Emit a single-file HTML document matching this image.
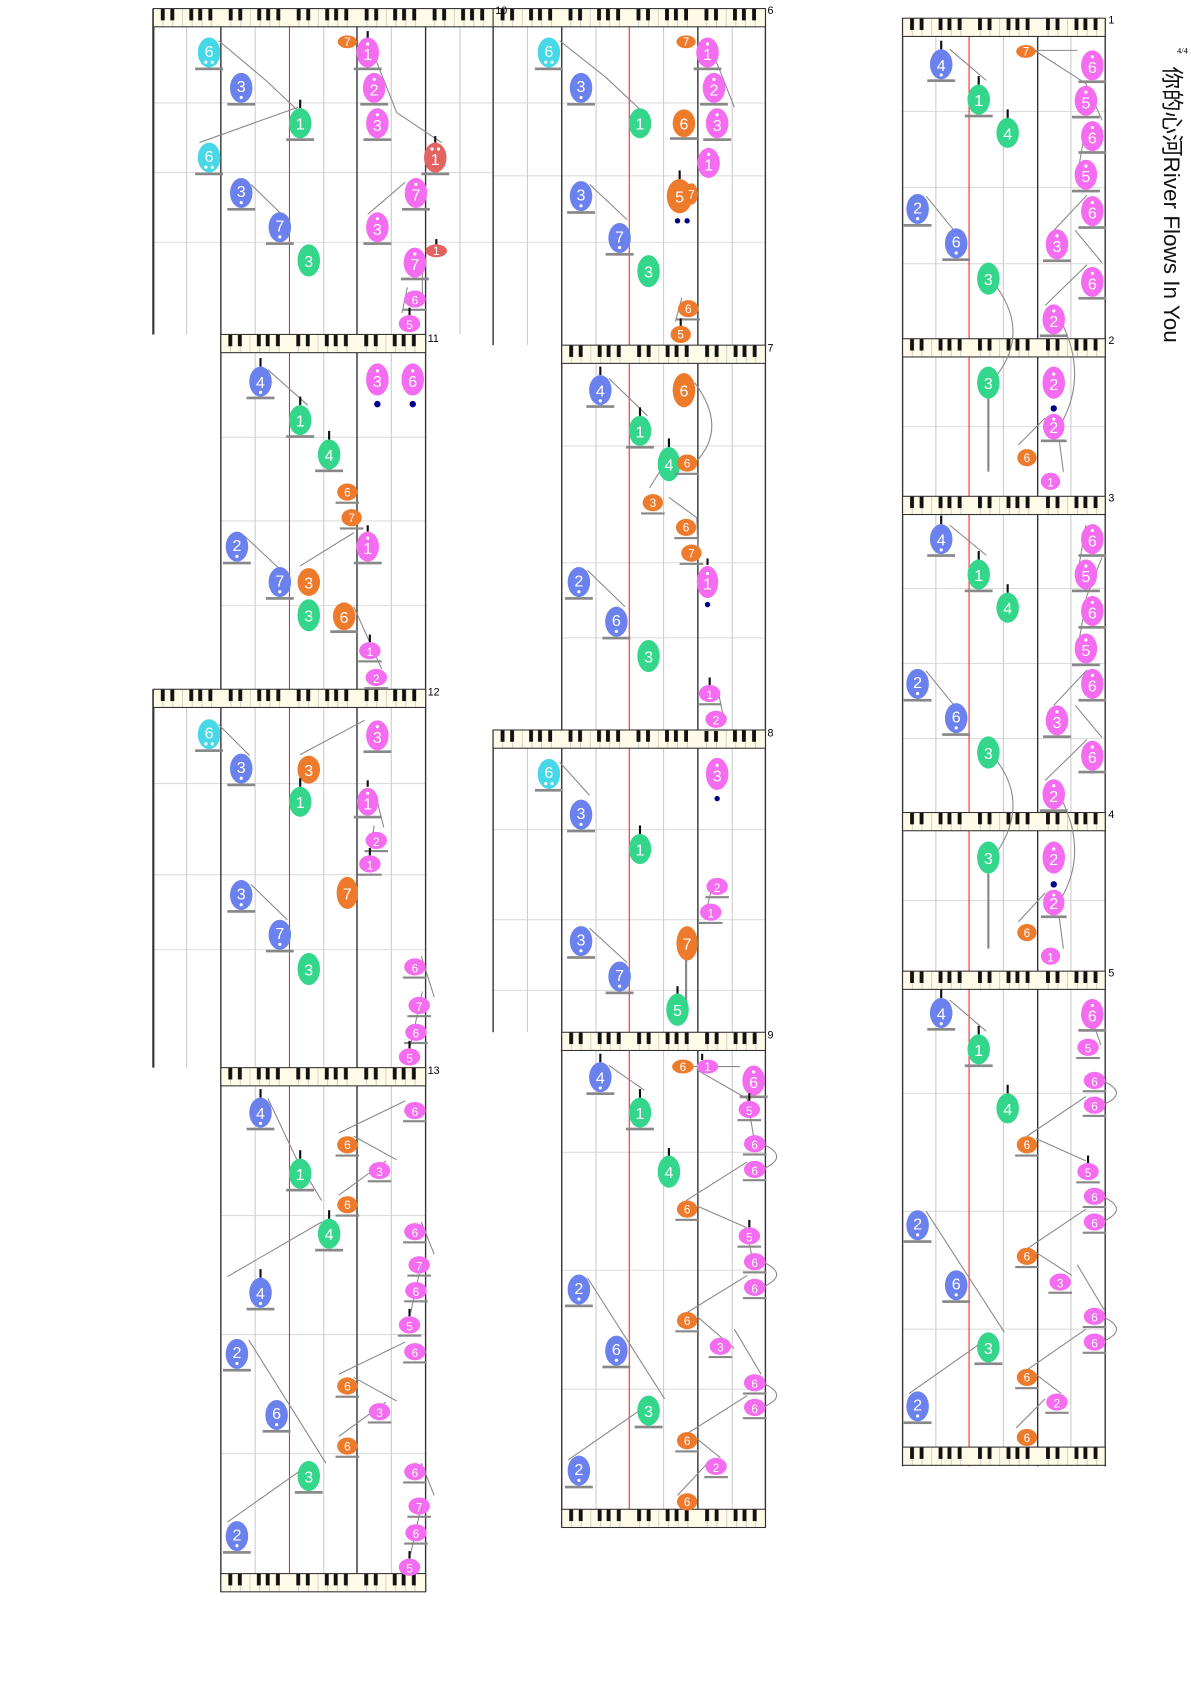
<!DOCTYPE html>
<html><head><meta charset="utf-8"><style>
html,body{margin:0;padding:0;background:#fff}
svg{display:block}
.n text{fill:#fff;font-family:"Liberation Sans",sans-serif;font-size:15px;text-anchor:middle}
.s text{font-size:11px}
.b ellipse{fill:#6b82ee}.g ellipse{fill:#33d68a}.p ellipse{fill:#f46cf0}.o ellipse{fill:#ee7a2c}.c ellipse{fill:#47d8e8}.r ellipse{fill:#e36363}
.n circle{fill:#fff}
.u{fill:#888}
.st{stroke:#111;stroke-width:2}
.cn{stroke:#888;stroke-width:1;fill:none}
.dk{stroke:#333;stroke-width:1.3}
.lt{stroke:#ccc;stroke-width:1}
.rd{stroke:#f22;stroke-width:1}
.gr{stroke:#ddd;stroke-width:1}
.mn{font-family:"Liberation Sans",sans-serif;font-size:10px;fill:#000}
</style></head><body>
<svg width="1191" height="1684" viewBox="0 0 1111 1571" xmlns="http://www.w3.org/2000/svg">
<defs>
<pattern id="kb" patternUnits="userSpaceOnUse" width="63.4" height="17">
<rect width="63.4" height="17" fill="#fffbe8"/>
<g stroke="#bbb" stroke-width="0.6"><line x1="9" y1="0" x2="9" y2="17"/><line x1="18.1" y1="0" x2="18.1" y2="17"/><line x1="27.2" y1="0" x2="27.2" y2="17"/><line x1="36.2" y1="0" x2="36.2" y2="17"/><line x1="45.3" y1="0" x2="45.3" y2="17"/><line x1="54.3" y1="0" x2="54.3" y2="17"/></g>
<g fill="#111"><rect x="7" y="0" width="3.6" height="11"/><rect x="15.9" y="0" width="3.6" height="11"/><rect x="33.6" y="0" width="3.6" height="11"/><rect x="41.9" y="0" width="3.6" height="11"/><rect x="51.4" y="0" width="3.6" height="11"/></g>
</pattern>
</defs>

<!-- grid lines -->
<g class="gr">
<line x1="842" y1="104" x2="1031" y2="104"/><line x1="842" y1="175" x2="1031" y2="175"/><line x1="842" y1="246" x2="1031" y2="246"/>
<line x1="842" y1="398" x2="1031" y2="398"/>
<line x1="842" y1="549" x2="1031" y2="549"/><line x1="842" y1="619" x2="1031" y2="619"/><line x1="842" y1="689" x2="1031" y2="689"/>
<line x1="842" y1="840" x2="1031" y2="840"/>
<line x1="842" y1="1020" x2="1031" y2="1020"/><line x1="842" y1="1130" x2="1031" y2="1130"/><line x1="842" y1="1240" x2="1031" y2="1240"/>
<line x1="143" y1="96" x2="460" y2="96"/><line x1="143" y1="161" x2="460" y2="161"/><line x1="143" y1="226" x2="460" y2="226"/>
<line x1="206" y1="408" x2="397" y2="408"/><line x1="206" y1="486" x2="397" y2="486"/><line x1="206" y1="565" x2="397" y2="565"/>
<line x1="143" y1="731" x2="397" y2="731"/><line x1="143" y1="816" x2="397" y2="816"/><line x1="143" y1="886" x2="397" y2="886"/>
<line x1="206" y1="1134" x2="397" y2="1134"/><line x1="206" y1="1245" x2="397" y2="1245"/><line x1="206" y1="1356" x2="397" y2="1356"/>
<line x1="460" y1="96" x2="714" y2="96"/><line x1="460" y1="164" x2="714" y2="164"/><line x1="460" y1="226" x2="714" y2="226"/>
<line x1="524" y1="416" x2="714" y2="416"/><line x1="524" y1="525" x2="714" y2="525"/><line x1="524" y1="595" x2="714" y2="595"/>
<line x1="460" y1="774" x2="714" y2="774"/><line x1="460" y1="858" x2="714" y2="858"/><line x1="460" y1="924" x2="714" y2="924"/>
<line x1="524" y1="1075" x2="714" y2="1075"/><line x1="524" y1="1185" x2="714" y2="1185"/><line x1="524" y1="1296" x2="714" y2="1296"/>
</g>

<!-- vertical lines -->
<g class="lt">
<line x1="873" y1="17" x2="873" y2="1368"/><line x1="936" y1="17" x2="936" y2="1368"/><line x1="999" y1="17" x2="999" y2="1368"/>
<line x1="238" y1="8" x2="238" y2="1485"/><line x1="302" y1="8" x2="302" y2="1485"/><line x1="365" y1="8" x2="365" y2="1485"/>
<line x1="174" y1="8" x2="174" y2="312"/><line x1="174" y1="643" x2="174" y2="996"/><line x1="429" y1="8" x2="429" y2="312"/>
<line x1="556" y1="8" x2="556" y2="1425"/><line x1="619" y1="8" x2="619" y2="1425"/><line x1="683" y1="8" x2="683" y2="1425"/>
<line x1="492" y1="8" x2="492" y2="322"/><line x1="492" y1="681" x2="492" y2="963"/>
</g>
<g class="rd"><line x1="904" y1="17" x2="904" y2="1368"/><line x1="270" y1="8" x2="270" y2="1485"/><line x1="587" y1="8" x2="587" y2="1425"/></g>
<g class="dk">
<line x1="842" y1="17" x2="842" y2="1368"/><line x1="968" y1="17" x2="968" y2="1368"/><line x1="1031" y1="17" x2="1031" y2="1368"/>
<line x1="206" y1="8" x2="206" y2="1485"/><line x1="333" y1="8" x2="333" y2="1485"/><line x1="397" y1="8" x2="397" y2="1485"/>
<line x1="143" y1="8" x2="143" y2="312" stroke-width="2"/><line x1="143" y1="643" x2="143" y2="996" stroke-width="2"/>
<line x1="460" y1="8" x2="460" y2="322"/><line x1="460" y1="681" x2="460" y2="963"/>
<line x1="524" y1="8" x2="524" y2="1425"/><line x1="651" y1="8" x2="651" y2="1425"/><line x1="714" y1="8" x2="714" y2="1425"/>
</g>

<!-- keyboards -->
<g>
<g transform="translate(842,17)"><rect width="189" height="17" fill="url(#kb)" stroke="#333"/></g>
<g transform="translate(842,316)"><rect width="189" height="17" fill="url(#kb)" stroke="#333"/></g>
<g transform="translate(842,463)"><rect width="189" height="17" fill="url(#kb)" stroke="#333"/></g>
<g transform="translate(842,758)"><rect width="189" height="17" fill="url(#kb)" stroke="#333"/></g>
<g transform="translate(842,906)"><rect width="189" height="17" fill="url(#kb)" stroke="#333"/></g>
<g transform="translate(842,1350)"><rect width="189" height="17" fill="url(#kb)" stroke="#333"/></g>
<g transform="translate(143,8)"><rect width="317" height="17" fill="url(#kb)" stroke="#333"/></g>
<g transform="translate(206,312)"><rect width="191" height="17" fill="url(#kb)" stroke="#333"/></g>
<g transform="translate(143,643)"><rect width="254" height="17" fill="url(#kb)" stroke="#333"/></g>
<g transform="translate(206,996)"><rect width="191" height="17" fill="url(#kb)" stroke="#333"/></g>
<g transform="translate(206,1468)"><rect width="191" height="17" fill="url(#kb)" stroke="#333"/></g>
<g transform="translate(460,8)"><rect width="254" height="17" fill="url(#kb)" stroke="#333"/></g>
<g transform="translate(524,322)"><rect width="190" height="17" fill="url(#kb)" stroke="#333"/></g>
<g transform="translate(460,681)"><rect width="254" height="17" fill="url(#kb)" stroke="#333"/></g>
<g transform="translate(524,963)"><rect width="190" height="17" fill="url(#kb)" stroke="#333"/></g>
<g transform="translate(524,1408)"><rect width="190" height="17" fill="url(#kb)" stroke="#333"/></g>
</g>

<!-- measure numbers -->
<g class="mn">
<text x="1034" y="22">1</text><text x="1034" y="321">2</text><text x="1034" y="468">3</text><text x="1034" y="763">4</text><text x="1034" y="911">5</text>
<text x="716" y="13">6</text><text x="716" y="328">7</text><text x="716" y="687">8</text><text x="716" y="969">9</text>
<text x="462" y="13">10</text><text x="399" y="319">11</text><text x="399" y="649">12</text><text x="399" y="1002">13</text>
</g>

<!-- title -->
<text x="1098" y="50" font-family="Liberation Serif,serif" font-size="8">4/4</text>
<text transform="translate(1086,62) rotate(90)" font-family="'Liberation Sans','Noto Sans CJK SC',sans-serif" font-size="21" fill="#111">你的心河River Flows In You</text>

<!-- connectors -->
<g class="cn">
<!-- col C -->
<polyline points="886,46 920,75"/><polyline points="957,47 1005,47"/><polyline points="965,47 1013,78 1028,112"/><polyline points="1013,118 1007,152"/>
<polyline points="1014,182 983,215"/><polyline points="1003,215 1028,245"/><polyline points="1014,247 975,285"/><polyline points="864,183 890,215"/>
<path d="M930,268 Q960,310 930,350"/><path d="M990,300 Q1015,350 990,395"/>
<line x1="922" y1="370" x2="922" y2="440" stroke-width="2"/><polyline points="950,415 975,390"/><polyline points="988,410 992,440"/>
<polyline points="886,490 920,518"/><polyline points="1013,490 1007,525"/><polyline points="1028,520 1013,558"/><polyline points="1013,562 1007,595"/>
<polyline points="1014,625 983,658"/><polyline points="1003,658 1028,688"/><polyline points="1014,690 975,728"/><polyline points="864,626 890,658"/>
<path d="M930,710 Q960,750 930,795"/><path d="M990,745 Q1015,795 990,838"/>
<line x1="922" y1="815" x2="922" y2="885" stroke-width="2"/><polyline points="950,860 975,833"/><polyline points="988,855 992,885"/>
<polyline points="886,933 920,962"/><polyline points="1013,935 1027,975"/><path d="M1028,1008 Q1055,1020 1028,1031"/>
<polyline points="958,1060 1013,1023"/><polyline points="966,1062 1013,1083"/><path d="M1028,1116 Q1055,1128 1028,1140"/>
<polyline points="958,1165 1013,1128"/><polyline points="966,1168 1000,1190"/><polyline points="1005,1180 1030,1222"/><path d="M1028,1228 Q1055,1240 1028,1252"/>
<polyline points="958,1278 1013,1240"/><polyline points="966,1282 990,1300"/><polyline points="948,1332 975,1305"/>
<polyline points="864,1130 937,1243"/><polyline points="922,1248 848,1300"/>
<!-- col A -->
<polyline points="204,38 248,75 283,108"/><polyline points="186,133 278,100"/><polyline points="234,172 268,205"/>
<polyline points="342,34 355,67 370,105 412,133"/><polyline points="378,170 343,200"/><polyline points="380,268 375,292"/><line x1="394" y1="235" x2="394" y2="280"/>
<polyline points="250,345 287,378"/><polyline points="228,500 260,530"/><polyline points="280,528 330,497"/><polyline points="330,566 356,624"/>
<polyline points="204,676 233,705"/><polyline points="280,704 340,672"/><polyline points="234,825 268,858"/><polyline points="350,740 358,772"/><polyline points="345,796 349,770"/>
<polyline points="393,892 405,930"/><polyline points="394,925 383,975"/>
<polyline points="250,1025 276,1080 300,1120"/><polyline points="212,1191 300,1140"/><polyline points="316,1057 378,1027"/><polyline points="330,1060 370,1082"/><polyline points="316,1115 360,1083"/>
<polyline points="393,1140 405,1170"/><polyline points="394,1175 383,1225"/>
<polyline points="232,1250 304,1365"/><polyline points="212,1420 290,1365"/><polyline points="316,1282 378,1252"/><polyline points="330,1285 370,1307"/><polyline points="316,1340 360,1308"/>
<polyline points="393,1365 405,1395"/><polyline points="394,1400 383,1450"/>
<!-- col B -->
<polyline points="522,38 565,72 598,103"/><polyline points="660,38 672,67 685,100"/><polyline points="550,172 585,205"/><polyline points="630,300 636,278"/>
<polyline points="568,353 604,388"/><path d="M648,357 Q680,400 648,432"/><polyline points="606,455 628,420"/><polyline points="624,464 650,483 651,512"/>
<polyline points="548,532 583,566"/><polyline points="670,645 675,670"/>
<polyline points="522,711 550,742"/><polyline points="666,820 660,845"/><polyline points="550,866 585,898"/><line x1="640" y1="890" x2="640" y2="935" stroke-width="2"/>
<polyline points="568,994 601,1017"/><polyline points="640,995 690,995"/><polyline points="650,998 697,1025 703,1060"/>
<path d="M711,1067 Q738,1079 711,1091"/><polyline points="640,1120 697,1084"/><polyline points="650,1125 696,1145 704,1185"/>
<path d="M711,1177 Q738,1189 711,1201"/><polyline points="640,1225 697,1190"/><polyline points="650,1228 685,1258"/><polyline points="685,1240 710,1282"/>
<path d="M711,1290 Q738,1302 711,1313"/><polyline points="640,1338 697,1302"/><polyline points="650,1342 672,1360"/><polyline points="632,1395 660,1365"/>
<polyline points="548,1192 620,1305"/><polyline points="605,1310 530,1362"/>
</g>

<!-- notes: big -->
<g>
<!-- col C sys1 -->
<g class="n b" transform="translate(878,60)"><line class="st" x1="0" y1="-22" x2="0" y2="-14"/><ellipse rx="10.5" ry="14"/><text y="6">4</text><circle cy="10" r="1.5"/><rect class="u" x="-13" y="14" width="26" height="2.5"/></g>
<g class="n g" transform="translate(913,93)"><line class="st" x1="0" y1="-22" x2="0" y2="-14"/><ellipse rx="10.5" ry="14"/><text y="6">1</text><rect class="u" x="-13" y="14" width="26" height="2.5"/></g>
<g class="n g" transform="translate(940,124)"><line class="st" x1="0" y1="-22" x2="0" y2="-14"/><ellipse rx="10.5" ry="14"/><text y="6">4</text></g>
<g class="n o s" transform="translate(957,48)"><ellipse rx="9" ry="6"/><text y="4">7</text></g>
<g class="n p" transform="translate(1019,61)"><ellipse rx="10.5" ry="14"/><text y="7">6</text><circle cy="-8" r="1.5"/><rect class="u" x="-13" y="14" width="26" height="2.5"/></g>
<g class="n p" transform="translate(1013,94)"><ellipse rx="10.5" ry="14"/><text y="7">5</text><circle cy="-8" r="1.5"/><rect class="u" x="-13" y="14" width="26" height="2.5"/></g>
<g class="n p" transform="translate(1019,127)"><ellipse rx="10.5" ry="14"/><text y="7">6</text><circle cy="-8" r="1.5"/><rect class="u" x="-13" y="14" width="26" height="2.5"/></g>
<g class="n p" transform="translate(1013,163)"><ellipse rx="10.5" ry="14"/><text y="7">5</text><circle cy="-8" r="1.5"/><rect class="u" x="-13" y="14" width="26" height="2.5"/></g>
<g class="n p" transform="translate(1019,197)"><ellipse rx="10.5" ry="14"/><text y="7">6</text><circle cy="-8" r="1.5"/><rect class="u" x="-13" y="14" width="26" height="2.5"/></g>
<g class="n p" transform="translate(986,228)"><ellipse rx="10.5" ry="14"/><text y="7">3</text><circle cy="-8" r="1.5"/><rect class="u" x="-13" y="14" width="26" height="2.5"/></g>
<g class="n p" transform="translate(1019,263)"><ellipse rx="10.5" ry="14"/><text y="7">6</text><circle cy="-8" r="1.5"/><rect class="u" x="-13" y="14" width="26" height="2.5"/></g>
<g class="n p" transform="translate(983,298)"><ellipse rx="10.5" ry="14"/><text y="7">2</text><circle cy="-8" r="1.5"/><rect class="u" x="-13" y="14" width="26" height="2.5"/></g>
<g class="n b" transform="translate(856,195)"><ellipse rx="10.5" ry="14"/><text y="4">2</text><circle cy="9" r="1.5"/><rect class="u" x="-13" y="14" width="26" height="2.5"/></g>
<g class="n b" transform="translate(892,227)"><ellipse rx="10.5" ry="14"/><text y="4">6</text><circle cy="9" r="1.5"/><rect class="u" x="-13" y="14" width="26" height="2.5"/></g>
<g class="n g" transform="translate(922,260)"><ellipse rx="10.5" ry="15"/><text y="6">3</text></g>
<!-- sys2 -->
<g class="n g" transform="translate(922,357)"><ellipse rx="10.5" ry="15"/><text y="6">3</text></g>
<g class="n p" transform="translate(983,357)"><ellipse rx="10.5" ry="15"/><text y="7">2</text><circle cy="-8" r="1.5"/></g>
<circle cx="983" cy="381" r="3" fill="#008"/>
<g class="n p" transform="translate(983,398)"><ellipse rx="10" ry="12"/><text y="6">2</text><circle cy="-7" r="1.5"/><rect class="u" x="-12" y="12" width="24" height="2.5"/></g>
<g class="n o s" transform="translate(958,427)"><ellipse rx="9" ry="8"/><text y="4">6</text></g>
<g class="n p s" transform="translate(980,449)"><ellipse rx="9" ry="8"/><text y="5">1</text></g>
<!-- sys3 -->
<g class="n b" transform="translate(878,503)"><line class="st" x1="0" y1="-22" x2="0" y2="-14"/><ellipse rx="10.5" ry="14"/><text y="6">4</text><circle cy="10" r="1.5"/><rect class="u" x="-13" y="14" width="26" height="2.5"/></g>
<g class="n g" transform="translate(913,536)"><line class="st" x1="0" y1="-22" x2="0" y2="-14"/><ellipse rx="10.5" ry="14"/><text y="6">1</text><rect class="u" x="-13" y="14" width="26" height="2.5"/></g>
<g class="n g" transform="translate(940,567)"><line class="st" x1="0" y1="-22" x2="0" y2="-14"/><ellipse rx="10.5" ry="14"/><text y="6">4</text></g>
<g class="n p" transform="translate(1019,503)"><ellipse rx="10.5" ry="14"/><text y="7">6</text><circle cy="-8" r="1.5"/><rect class="u" x="-13" y="14" width="26" height="2.5"/></g>
<g class="n p" transform="translate(1013,536)"><ellipse rx="10.5" ry="14"/><text y="7">5</text><circle cy="-8" r="1.5"/><rect class="u" x="-13" y="14" width="26" height="2.5"/></g>
<g class="n p" transform="translate(1019,570)"><ellipse rx="10.5" ry="14"/><text y="7">6</text><circle cy="-8" r="1.5"/><rect class="u" x="-13" y="14" width="26" height="2.5"/></g>
<g class="n p" transform="translate(1013,605)"><ellipse rx="10.5" ry="14"/><text y="7">5</text><circle cy="-8" r="1.5"/><rect class="u" x="-13" y="14" width="26" height="2.5"/></g>
<g class="n p" transform="translate(1019,638)"><ellipse rx="10.5" ry="14"/><text y="7">6</text><circle cy="-8" r="1.5"/><rect class="u" x="-13" y="14" width="26" height="2.5"/></g>
<g class="n p" transform="translate(986,672)"><ellipse rx="10.5" ry="14"/><text y="7">3</text><circle cy="-8" r="1.5"/><rect class="u" x="-13" y="14" width="26" height="2.5"/></g>
<g class="n p" transform="translate(1019,705)"><ellipse rx="10.5" ry="14"/><text y="7">6</text><circle cy="-8" r="1.5"/><rect class="u" x="-13" y="14" width="26" height="2.5"/></g>
<g class="n p" transform="translate(983,741)"><ellipse rx="10.5" ry="14"/><text y="7">2</text><circle cy="-8" r="1.5"/><rect class="u" x="-13" y="14" width="26" height="2.5"/></g>
<g class="n b" transform="translate(856,638)"><ellipse rx="10.5" ry="14"/><text y="4">2</text><circle cy="9" r="1.5"/><rect class="u" x="-13" y="14" width="26" height="2.5"/></g>
<g class="n b" transform="translate(892,670)"><ellipse rx="10.5" ry="14"/><text y="4">6</text><circle cy="9" r="1.5"/><rect class="u" x="-13" y="14" width="26" height="2.5"/></g>
<g class="n g" transform="translate(922,702)"><ellipse rx="10.5" ry="15"/><text y="6">3</text></g>
<!-- sys4 -->
<g class="n g" transform="translate(922,800)"><ellipse rx="10.5" ry="15"/><text y="6">3</text></g>
<g class="n p" transform="translate(983,800)"><ellipse rx="10.5" ry="15"/><text y="7">2</text><circle cy="-8" r="1.5"/></g>
<circle cx="983" cy="825" r="3" fill="#008"/>
<g class="n p" transform="translate(983,842)"><ellipse rx="10" ry="12"/><text y="6">2</text><circle cy="-7" r="1.5"/><rect class="u" x="-12" y="12" width="24" height="2.5"/></g>
<g class="n o s" transform="translate(958,870)"><ellipse rx="9" ry="8"/><text y="4">6</text></g>
<g class="n p s" transform="translate(980,892)"><ellipse rx="9" ry="8"/><text y="5">1</text></g>
<!-- sys5 -->
<g class="n b" transform="translate(878,945)"><line class="st" x1="0" y1="-22" x2="0" y2="-14"/><ellipse rx="10.5" ry="14"/><text y="6">4</text><circle cy="10" r="1.5"/><rect class="u" x="-13" y="14" width="26" height="2.5"/></g>
<g class="n g" transform="translate(913,979)"><line class="st" x1="0" y1="-22" x2="0" y2="-14"/><ellipse rx="10.5" ry="14"/><text y="6">1</text><rect class="u" x="-13" y="14" width="26" height="2.5"/></g>
<g class="n g" transform="translate(940,1034)"><line class="st" x1="0" y1="-22" x2="0" y2="-14"/><ellipse rx="10.5" ry="14"/><text y="6">4</text></g>
<g class="n p" transform="translate(1019,946)"><ellipse rx="10.5" ry="14"/><text y="7">6</text><circle cy="-8" r="1.5"/><rect class="u" x="-13" y="14" width="26" height="2.5"/></g>
<g class="n b" transform="translate(856,1143)"><ellipse rx="10.5" ry="14"/><text y="4">2</text><circle cy="9" r="1.5"/><rect class="u" x="-13" y="14" width="26" height="2.5"/></g>
<g class="n b" transform="translate(892,1199)"><ellipse rx="10.5" ry="14"/><text y="4">6</text><circle cy="9" r="1.5"/><rect class="u" x="-13" y="14" width="26" height="2.5"/></g>
<g class="n g" transform="translate(922,1257)"><ellipse rx="10.5" ry="14"/><text y="6">3</text><rect class="u" x="-13" y="14" width="26" height="2.5"/></g>
<g class="n b" transform="translate(856,1312)"><ellipse rx="10.5" ry="14"/><text y="4">2</text><circle cy="9" r="1.5"/><rect class="u" x="-13" y="14" width="26" height="2.5"/></g>

<!-- col A sys10 -->
<g class="n c" transform="translate(195,49)"><ellipse rx="10.5" ry="14"/><text y="4">6</text><circle cx="-3" cy="9" r="1.5"/><circle cx="3" cy="9" r="1.5"/><rect class="u" x="-13" y="14" width="26" height="2.5"/></g>
<g class="n b" transform="translate(225,82)"><ellipse rx="10.5" ry="14"/><text y="4">3</text><circle cy="9" r="1.5"/><rect class="u" x="-13" y="14" width="26" height="2.5"/></g>
<g class="n g" transform="translate(280,115)"><line class="st" x1="0" y1="-22" x2="0" y2="-14"/><ellipse rx="10.5" ry="14"/><text y="6">1</text><rect class="u" x="-13" y="14" width="26" height="2.5"/></g>
<g class="n c" transform="translate(195,147)"><ellipse rx="10.5" ry="14"/><text y="4">6</text><circle cx="-3" cy="9" r="1.5"/><circle cx="3" cy="9" r="1.5"/><rect class="u" x="-13" y="14" width="26" height="2.5"/></g>
<g class="n b" transform="translate(225,180)"><ellipse rx="10.5" ry="14"/><text y="4">3</text><circle cy="9" r="1.5"/><rect class="u" x="-13" y="14" width="26" height="2.5"/></g>
<g class="n b" transform="translate(261,212)"><ellipse rx="10.5" ry="14"/><text y="4">7</text><circle cy="9" r="1.5"/><rect class="u" x="-13" y="14" width="26" height="2.5"/></g>
<g class="n g" transform="translate(288,243)"><ellipse rx="10.5" ry="15"/><text y="6">3</text></g>
<g class="n o s" transform="translate(324,39)"><ellipse rx="9" ry="6"/><text y="4">7</text></g>
<g class="n p" transform="translate(343,49)"><line class="st" x1="0" y1="-20" x2="0" y2="-14"/><ellipse rx="10.5" ry="14"/><text y="7">1</text><circle cy="-8" r="1.5"/><rect class="u" x="-13" y="14" width="26" height="2.5"/></g>
<g class="n p" transform="translate(349,82)"><ellipse rx="10.5" ry="14"/><text y="7">2</text><circle cy="-8" r="1.5"/><rect class="u" x="-13" y="14" width="26" height="2.5"/></g>
<g class="n p" transform="translate(352,115)"><ellipse rx="10.5" ry="14"/><text y="7">3</text><circle cy="-8" r="1.5"/><rect class="u" x="-13" y="14" width="26" height="2.5"/></g>
<g class="n r" transform="translate(406,147)"><line class="st" x1="0" y1="-20" x2="0" y2="-14"/><ellipse rx="10.5" ry="14"/><text y="7">1</text><circle cx="-3" cy="-8" r="1.5"/><circle cx="3" cy="-8" r="1.5"/><rect class="u" x="-13" y="14" width="26" height="2.5"/></g>
<g class="n p" transform="translate(388,180)"><ellipse rx="10.5" ry="14"/><text y="7">7</text><circle cy="-8" r="1.5"/><rect class="u" x="-13" y="14" width="26" height="2.5"/></g>
<g class="n p" transform="translate(352,212)"><ellipse rx="10.5" ry="14"/><text y="7">3</text><circle cy="-8" r="1.5"/><rect class="u" x="-13" y="14" width="26" height="2.5"/></g>
<g class="n p" transform="translate(387,245)"><ellipse rx="10.5" ry="14"/><text y="7">7</text><circle cy="-8" r="1.5"/><rect class="u" x="-13" y="14" width="26" height="2.5"/></g>
<g class="n r s" transform="translate(407,234)"><line class="st" x1="0" y1="-11" x2="0" y2="-6"/><ellipse rx="10" ry="6"/><text y="4">1</text></g>
<g class="n p s" transform="translate(387,279)"><ellipse rx="10" ry="8"/><text y="5">6</text><rect class="u" x="-11" y="9" width="22" height="2"/></g>
<g class="n p s" transform="translate(382,302)"><line class="st" x1="0" y1="-15" x2="0" y2="-8"/><ellipse rx="10" ry="8"/><text y="5">5</text></g>
<!-- sys11 -->
<g class="n b" transform="translate(243,356)"><line class="st" x1="0" y1="-22" x2="0" y2="-14"/><ellipse rx="10.5" ry="14"/><text y="6">4</text><circle cy="10" r="1.5"/><rect class="u" x="-13" y="14" width="26" height="2.5"/></g>
<g class="n g" transform="translate(280,392)"><line class="st" x1="0" y1="-22" x2="0" y2="-14"/><ellipse rx="10.5" ry="14"/><text y="6">1</text><rect class="u" x="-13" y="14" width="26" height="2.5"/></g>
<g class="n g" transform="translate(307,424)"><line class="st" x1="0" y1="-22" x2="0" y2="-14"/><ellipse rx="10.5" ry="14"/><text y="6">4</text><rect class="u" x="-13" y="14" width="26" height="2.5"/></g>
<g class="n p" transform="translate(352,354)"><ellipse rx="10.5" ry="15"/><text y="7">3</text><circle cy="-8" r="1.5"/></g>
<g class="n p" transform="translate(385,354)"><ellipse rx="10.5" ry="15"/><text y="7">6</text><circle cy="-8" r="1.5"/></g>
<circle cx="352" cy="377" r="3" fill="#008"/><circle cx="385" cy="377" r="3" fill="#008"/>
<g class="n o s" transform="translate(324,459)"><ellipse rx="9.5" ry="8"/><text y="4">6</text><rect class="u" x="-11" y="9" width="22" height="2"/></g>
<g class="n o s" transform="translate(328,483)"><ellipse rx="9.5" ry="8"/><text y="4">7</text><rect class="u" x="-11" y="9" width="22" height="2"/></g>
<g class="n p" transform="translate(343,510)"><line class="st" x1="0" y1="-20" x2="0" y2="-14"/><ellipse rx="10.5" ry="14"/><text y="7">1</text><circle cy="-8" r="1.5"/><rect class="u" x="-13" y="14" width="26" height="2.5"/></g>
<g class="n b" transform="translate(221,510)"><ellipse rx="10.5" ry="14"/><text y="4">2</text><circle cy="9" r="1.5"/><rect class="u" x="-13" y="14" width="26" height="2.5"/></g>
<g class="n b" transform="translate(261,543)"><ellipse rx="10.5" ry="14"/><text y="4">7</text><circle cy="9" r="1.5"/><rect class="u" x="-13" y="14" width="26" height="2.5"/></g>
<g class="n o" transform="translate(288,543)"><ellipse rx="10.5" ry="13"/><text y="6">3</text></g>
<g class="n g" transform="translate(288,574)"><ellipse rx="10.5" ry="15"/><text y="6">3</text></g>
<g class="n o" transform="translate(321,575)"><ellipse rx="10.5" ry="13"/><text y="6">6</text><rect class="u" x="-13" y="13" width="26" height="2.5"/></g>
<g class="n p s" transform="translate(345,607)"><line class="st" x1="0" y1="-15" x2="0" y2="-8"/><ellipse rx="10" ry="8"/><text y="5">1</text><rect class="u" x="-11" y="9" width="22" height="2"/></g>
<g class="n p s" transform="translate(351,632)"><ellipse rx="10" ry="8"/><text y="5">2</text><rect class="u" x="-11" y="9" width="22" height="2"/></g>
<!-- sys12 -->
<g class="n c" transform="translate(195,685)"><ellipse rx="10.5" ry="14"/><text y="4">6</text><circle cx="-3" cy="9" r="1.5"/><circle cx="3" cy="9" r="1.5"/><rect class="u" x="-13" y="14" width="26" height="2.5"/></g>
<g class="n b" transform="translate(225,717)"><ellipse rx="10.5" ry="14"/><text y="4">3</text><circle cy="9" r="1.5"/><rect class="u" x="-13" y="14" width="26" height="2.5"/></g>
<g class="n o" transform="translate(288,718)"><ellipse rx="10.5" ry="13"/><text y="6">3</text></g>
<g class="n p" transform="translate(352,686)"><ellipse rx="10.5" ry="14"/><text y="7">3</text><circle cy="-8" r="1.5"/><rect class="u" x="-13" y="14" width="26" height="2.5"/></g>
<g class="n g" transform="translate(280,748)"><line class="st" x1="0" y1="-22" x2="0" y2="-14"/><ellipse rx="10.5" ry="14"/><text y="6">1</text></g>
<g class="n p" transform="translate(343,748)"><line class="st" x1="0" y1="-20" x2="0" y2="-14"/><ellipse rx="10" ry="13"/><text y="7">1</text><circle cy="-8" r="1.5"/><rect class="u" x="-13" y="13" width="26" height="2.5"/></g>
<g class="n p s" transform="translate(351,784)"><ellipse rx="10" ry="8"/><text y="5">2</text><rect class="u" x="-11" y="9" width="22" height="2"/></g>
<g class="n p s" transform="translate(345,806)"><line class="st" x1="0" y1="-15" x2="0" y2="-8"/><ellipse rx="10" ry="8"/><text y="5">1</text><rect class="u" x="-11" y="9" width="22" height="2"/></g>
<g class="n o" transform="translate(324,833)"><ellipse rx="10" ry="15"/><text y="6">7</text></g>
<g class="n b" transform="translate(225,835)"><ellipse rx="10.5" ry="14"/><text y="4">3</text><circle cy="9" r="1.5"/><rect class="u" x="-13" y="14" width="26" height="2.5"/></g>
<g class="n b" transform="translate(261,872)"><ellipse rx="10.5" ry="14"/><text y="4">7</text><circle cy="9" r="1.5"/><rect class="u" x="-13" y="14" width="26" height="2.5"/></g>
<g class="n g" transform="translate(288,904)"><ellipse rx="10.5" ry="15"/><text y="6">3</text></g>
<g class="n p s" transform="translate(387,902)"><ellipse rx="10" ry="8"/><text y="5">6</text><rect class="u" x="-11" y="9" width="22" height="2"/></g>
<g class="n p s" transform="translate(391,938)"><ellipse rx="10" ry="8"/><text y="5">7</text><rect class="u" x="-11" y="9" width="22" height="2"/></g>
<g class="n p s" transform="translate(388,963)"><ellipse rx="10" ry="8"/><text y="5">6</text><rect class="u" x="-11" y="9" width="22" height="2"/></g>
<g class="n p s" transform="translate(382,986)"><line class="st" x1="0" y1="-15" x2="0" y2="-8"/><ellipse rx="10" ry="8"/><text y="5">5</text></g>
<!-- sys13 -->
<g class="n b" transform="translate(243,1038)"><line class="st" x1="0" y1="-22" x2="0" y2="-14"/><ellipse rx="10.5" ry="14"/><text y="6">4</text><circle cy="10" r="1.5"/><rect class="u" x="-13" y="14" width="26" height="2.5"/></g>
<g class="n g" transform="translate(280,1095)"><line class="st" x1="0" y1="-22" x2="0" y2="-14"/><ellipse rx="10.5" ry="14"/><text y="6">1</text><rect class="u" x="-13" y="14" width="26" height="2.5"/></g>
<g class="n g" transform="translate(307,1151)"><line class="st" x1="0" y1="-22" x2="0" y2="-14"/><ellipse rx="10.5" ry="14"/><text y="6">4</text><rect class="u" x="-13" y="14" width="26" height="2.5"/></g>
<g class="n b" transform="translate(243,1206)"><line class="st" x1="0" y1="-22" x2="0" y2="-14"/><ellipse rx="10.5" ry="14"/><text y="6">4</text><circle cy="10" r="1.5"/><rect class="u" x="-13" y="14" width="26" height="2.5"/></g>
<g class="n b" transform="translate(221,1263)"><ellipse rx="10.5" ry="14"/><text y="4">2</text><circle cy="9" r="1.5"/><rect class="u" x="-13" y="14" width="26" height="2.5"/></g>
<g class="n b" transform="translate(258,1320)"><ellipse rx="10.5" ry="14"/><text y="4">6</text><circle cy="9" r="1.5"/><rect class="u" x="-13" y="14" width="26" height="2.5"/></g>
<g class="n g" transform="translate(288,1377)"><ellipse rx="10.5" ry="14"/><text y="6">3</text><rect class="u" x="-13" y="14" width="26" height="2.5"/></g>
<g class="n b" transform="translate(221,1433)"><ellipse rx="10.5" ry="14"/><text y="4">2</text><circle cy="9" r="1.5"/><rect class="u" x="-13" y="14" width="26" height="2.5"/></g>

<!-- col B sys6 -->
<g class="n c" transform="translate(512,49)"><ellipse rx="10.5" ry="14"/><text y="4">6</text><circle cx="-3" cy="9" r="1.5"/><circle cx="3" cy="9" r="1.5"/><rect class="u" x="-13" y="14" width="26" height="2.5"/></g>
<g class="n b" transform="translate(542,82)"><ellipse rx="10.5" ry="14"/><text y="4">3</text><circle cy="9" r="1.5"/><rect class="u" x="-13" y="14" width="26" height="2.5"/></g>
<g class="n g" transform="translate(597,115)"><ellipse rx="10.5" ry="14"/><text y="6">1</text></g>
<g class="n o s" transform="translate(640,39)"><ellipse rx="9" ry="6"/><text y="4">7</text></g>
<g class="n p" transform="translate(660,49)"><ellipse rx="10.5" ry="14"/><text y="7">1</text><circle cy="-8" r="1.5"/><rect class="u" x="-13" y="14" width="26" height="2.5"/></g>
<g class="n p" transform="translate(666,82)"><ellipse rx="10.5" ry="14"/><text y="7">2</text><circle cy="-8" r="1.5"/><rect class="u" x="-13" y="14" width="26" height="2.5"/></g>
<g class="n o" transform="translate(638,115)"><ellipse rx="10.5" ry="13"/><text y="6">6</text><rect class="u" x="-13" y="13" width="26" height="2.5"/></g>
<g class="n p" transform="translate(669,115)"><ellipse rx="10.5" ry="14"/><text y="7">3</text><circle cy="-8" r="1.5"/><rect class="u" x="-13" y="14" width="26" height="2.5"/></g>
<g class="n p" transform="translate(661,152)"><ellipse rx="10.5" ry="14"/><text y="7">1</text><circle cy="-8" r="1.5"/></g>
<g class="n o" transform="translate(634,183)"><line class="st" x1="0" y1="-24" x2="0" y2="-16"/><ellipse rx="12" ry="16"/><text y="6">5</text></g>
<g class="n o s" transform="translate(645,181)"><ellipse rx="6" ry="10"/><text y="4">7</text></g>
<circle cx="632" cy="206" r="2.5" fill="#008"/><circle cx="641" cy="206" r="2.5" fill="#008"/>
<g class="n b" transform="translate(542,183)"><ellipse rx="10.5" ry="14"/><text y="4">3</text><circle cy="9" r="1.5"/><rect class="u" x="-13" y="14" width="26" height="2.5"/></g>
<g class="n b" transform="translate(578,222)"><ellipse rx="10.5" ry="14"/><text y="4">7</text><circle cy="9" r="1.5"/><rect class="u" x="-13" y="14" width="26" height="2.5"/></g>
<g class="n g" transform="translate(605,253)"><ellipse rx="10.5" ry="15"/><text y="6">3</text></g>
<g class="n o s" transform="translate(642,288)"><ellipse rx="9.5" ry="8"/><text y="4">6</text><rect class="u" x="-11" y="9" width="22" height="2"/></g>
<g class="n o s" transform="translate(635,312)"><line class="st" x1="0" y1="-15" x2="0" y2="-8"/><ellipse rx="9.5" ry="8"/><text y="4">5</text></g>
<!-- sys7 -->
<g class="n b" transform="translate(560,364)"><line class="st" x1="0" y1="-22" x2="0" y2="-14"/><ellipse rx="10.5" ry="14"/><text y="6">4</text><circle cy="10" r="1.5"/><rect class="u" x="-13" y="14" width="26" height="2.5"/></g>
<g class="n g" transform="translate(597,402)"><line class="st" x1="0" y1="-22" x2="0" y2="-14"/><ellipse rx="10.5" ry="14"/><text y="6">1</text><rect class="u" x="-13" y="14" width="26" height="2.5"/></g>
<g class="n o" transform="translate(638,364)"><ellipse rx="10.5" ry="16"/><text y="6">6</text></g>
<g class="n g" transform="translate(624,433)"><line class="st" x1="0" y1="-24" x2="0" y2="-16"/><ellipse rx="10.5" ry="16"/><text y="6">4</text></g>
<g class="n o s" transform="translate(641,432)"><ellipse rx="9.5" ry="8"/><text y="4">6</text><rect class="u" x="-11" y="9" width="22" height="2"/></g>
<g class="n o s" transform="translate(609,469)"><ellipse rx="9.5" ry="8"/><text y="4">3</text><rect class="u" x="-11" y="9" width="22" height="2"/></g>
<g class="n o s" transform="translate(640,492)"><ellipse rx="9.5" ry="8"/><text y="4">6</text><rect class="u" x="-11" y="9" width="22" height="2"/></g>
<g class="n o s" transform="translate(645,516)"><ellipse rx="9.5" ry="8"/><text y="4">7</text><rect class="u" x="-11" y="9" width="22" height="2"/></g>
<g class="n p" transform="translate(660,543)"><line class="st" x1="0" y1="-22" x2="0" y2="-16"/><ellipse rx="10" ry="15"/><text y="7">1</text><circle cy="-8" r="1.5"/></g>
<circle cx="660" cy="564" r="2.5" fill="#008"/>
<g class="n b" transform="translate(540,543)"><ellipse rx="10.5" ry="14"/><text y="4">2</text><circle cy="9" r="1.5"/><rect class="u" x="-13" y="14" width="26" height="2.5"/></g>
<g class="n b" transform="translate(575,580)"><ellipse rx="10.5" ry="14"/><text y="4">6</text><circle cy="9" r="1.5"/><rect class="u" x="-13" y="14" width="26" height="2.5"/></g>
<g class="n g" transform="translate(605,612)"><ellipse rx="10.5" ry="15"/><text y="6">3</text></g>
<g class="n p s" transform="translate(662,647)"><line class="st" x1="0" y1="-15" x2="0" y2="-8"/><ellipse rx="10" ry="8"/><text y="5">1</text><rect class="u" x="-11" y="9" width="22" height="2"/></g>
<g class="n p s" transform="translate(668,671)"><ellipse rx="10" ry="8"/><text y="5">2</text><rect class="u" x="-11" y="9" width="22" height="2"/></g>
<!-- sys8 -->
<g class="n c" transform="translate(512,722)"><ellipse rx="10.5" ry="14"/><text y="4">6</text><circle cx="-3" cy="9" r="1.5"/><circle cx="3" cy="9" r="1.5"/><rect class="u" x="-13" y="14" width="26" height="2.5"/></g>
<g class="n b" transform="translate(542,760)"><ellipse rx="10.5" ry="14"/><text y="4">3</text><circle cy="9" r="1.5"/><rect class="u" x="-13" y="14" width="26" height="2.5"/></g>
<g class="n p" transform="translate(669,722)"><ellipse rx="10.5" ry="15"/><text y="7">3</text><circle cy="-8" r="1.5"/></g>
<circle cx="669" cy="745" r="2.5" fill="#008"/>
<g class="n g" transform="translate(597,792)"><line class="st" x1="0" y1="-22" x2="0" y2="-14"/><ellipse rx="10.5" ry="14"/><text y="6">1</text></g>
<g class="n p s" transform="translate(669,827)"><ellipse rx="10" ry="8"/><text y="5">2</text><rect class="u" x="-11" y="9" width="22" height="2"/></g>
<g class="n p s" transform="translate(663,851)"><ellipse rx="10" ry="8"/><text y="5">1</text><rect class="u" x="-11" y="9" width="22" height="2"/></g>
<g class="n b" transform="translate(542,878)"><ellipse rx="10.5" ry="14"/><text y="4">3</text><circle cy="9" r="1.5"/><rect class="u" x="-13" y="14" width="26" height="2.5"/></g>
<g class="n b" transform="translate(578,911)"><ellipse rx="10.5" ry="14"/><text y="4">7</text><circle cy="9" r="1.5"/><rect class="u" x="-13" y="14" width="26" height="2.5"/></g>
<g class="n o" transform="translate(641,880)"><ellipse rx="10" ry="16"/><text y="6">7</text></g>
<g class="n g" transform="translate(632,942)"><line class="st" x1="0" y1="-22" x2="0" y2="-15"/><ellipse rx="10.5" ry="15"/><text y="6">5</text></g>
<!-- sys9 -->
<g class="n b" transform="translate(560,1005)"><line class="st" x1="0" y1="-22" x2="0" y2="-14"/><ellipse rx="10.5" ry="14"/><text y="6">4</text><circle cy="10" r="1.5"/><rect class="u" x="-13" y="14" width="26" height="2.5"/></g>
<g class="n g" transform="translate(597,1038)"><line class="st" x1="0" y1="-22" x2="0" y2="-14"/><ellipse rx="10.5" ry="14"/><text y="6">1</text><rect class="u" x="-13" y="14" width="26" height="2.5"/></g>
<g class="n g" transform="translate(624,1093)"><line class="st" x1="0" y1="-22" x2="0" y2="-14"/><ellipse rx="10.5" ry="15"/><text y="6">4</text></g>
<g class="n b" transform="translate(540,1203)"><ellipse rx="10.5" ry="14"/><text y="4">2</text><circle cy="9" r="1.5"/><rect class="u" x="-13" y="14" width="26" height="2.5"/></g>
<g class="n b" transform="translate(575,1260)"><ellipse rx="10.5" ry="14"/><text y="4">6</text><circle cy="9" r="1.5"/><rect class="u" x="-13" y="14" width="26" height="2.5"/></g>
<g class="n g" transform="translate(605,1316)"><ellipse rx="10.5" ry="14"/><text y="6">3</text><rect class="u" x="-13" y="14" width="26" height="2.5"/></g>
<g class="n b" transform="translate(540,1372)"><ellipse rx="10.5" ry="14"/><text y="4">2</text><circle cy="9" r="1.5"/><rect class="u" x="-13" y="14" width="26" height="2.5"/></g>
<g class="n p" transform="translate(703,1008)"><ellipse rx="10.5" ry="14"/><text y="7">6</text><circle cy="-8" r="1.5"/><rect class="u" x="-13" y="14" width="26" height="2.5"/></g>
</g>

<!-- small repeated notes -->
<g>
<!-- col C sys5 -->
<g class="n p s" transform="translate(1015,977)"><ellipse rx="10" ry="8"/><text y="5">5</text><rect class="u" x="-11" y="9" width="22" height="2"/></g>
<g class="n p s" transform="translate(1021,1008)"><ellipse rx="10" ry="8"/><text y="5">6</text><rect class="u" x="-11" y="9" width="22" height="2"/></g>
<g class="n p s" transform="translate(1021,1031)"><ellipse rx="10" ry="8"/><text y="5">6</text><rect class="u" x="-11" y="9" width="22" height="2"/></g>
<g class="n o s" transform="translate(958,1068)"><ellipse rx="9.5" ry="8"/><text y="4">6</text><rect class="u" x="-11" y="9" width="22" height="2"/></g>
<g class="n p s" transform="translate(1015,1093)"><line class="st" x1="0" y1="-15" x2="0" y2="-8"/><ellipse rx="10" ry="8"/><text y="5">5</text><rect class="u" x="-11" y="9" width="22" height="2"/></g>
<g class="n p s" transform="translate(1021,1116)"><ellipse rx="10" ry="8"/><text y="5">6</text><rect class="u" x="-11" y="9" width="22" height="2"/></g>
<g class="n p s" transform="translate(1021,1140)"><ellipse rx="10" ry="8"/><text y="5">6</text><rect class="u" x="-11" y="9" width="22" height="2"/></g>
<g class="n o s" transform="translate(958,1172)"><ellipse rx="9.5" ry="8"/><text y="4">6</text><rect class="u" x="-11" y="9" width="22" height="2"/></g>
<g class="n p s" transform="translate(989,1196)"><ellipse rx="10" ry="8"/><text y="5">3</text><rect class="u" x="-11" y="9" width="22" height="2"/></g>
<g class="n p s" transform="translate(1021,1228)"><ellipse rx="10" ry="8"/><text y="5">6</text><rect class="u" x="-11" y="9" width="22" height="2"/></g>
<g class="n p s" transform="translate(1021,1252)"><ellipse rx="10" ry="8"/><text y="5">6</text><rect class="u" x="-11" y="9" width="22" height="2"/></g>
<g class="n o s" transform="translate(958,1285)"><ellipse rx="9.5" ry="8"/><text y="4">6</text><rect class="u" x="-11" y="9" width="22" height="2"/></g>
<g class="n p s" transform="translate(986,1308)"><ellipse rx="10" ry="8"/><text y="5">2</text><rect class="u" x="-11" y="9" width="22" height="2"/></g>
<g class="n o s" transform="translate(958,1341)"><ellipse rx="9.5" ry="8"/><text y="4">6</text></g>
<!-- col A sys13 -->
<g class="n p s" transform="translate(387,1036)"><ellipse rx="10" ry="8"/><text y="5">6</text><rect class="u" x="-11" y="9" width="22" height="2"/></g>
<g class="n o s" transform="translate(324,1068)"><ellipse rx="9.5" ry="8"/><text y="4">6</text><rect class="u" x="-11" y="9" width="22" height="2"/></g>
<g class="n p s" transform="translate(354,1092)"><ellipse rx="10" ry="8"/><text y="5">3</text><rect class="u" x="-11" y="9" width="22" height="2"/></g>
<g class="n o s" transform="translate(324,1124)"><ellipse rx="9.5" ry="8"/><text y="4">6</text><rect class="u" x="-11" y="9" width="22" height="2"/></g>
<g class="n p s" transform="translate(387,1149)"><ellipse rx="10" ry="8"/><text y="5">6</text><rect class="u" x="-11" y="9" width="22" height="2"/></g>
<g class="n p s" transform="translate(391,1180)"><ellipse rx="10" ry="8"/><text y="5">7</text><rect class="u" x="-11" y="9" width="22" height="2"/></g>
<g class="n p s" transform="translate(388,1204)"><ellipse rx="10" ry="8"/><text y="5">6</text><rect class="u" x="-11" y="9" width="22" height="2"/></g>
<g class="n p s" transform="translate(382,1236)"><line class="st" x1="0" y1="-15" x2="0" y2="-8"/><ellipse rx="10" ry="8"/><text y="5">5</text><rect class="u" x="-11" y="9" width="22" height="2"/></g>
<g class="n p s" transform="translate(387,1261)"><ellipse rx="10" ry="8"/><text y="5">6</text><rect class="u" x="-11" y="9" width="22" height="2"/></g>
<g class="n o s" transform="translate(324,1293)"><ellipse rx="9.5" ry="8"/><text y="4">6</text><rect class="u" x="-11" y="9" width="22" height="2"/></g>
<g class="n p s" transform="translate(354,1317)"><ellipse rx="10" ry="8"/><text y="5">3</text><rect class="u" x="-11" y="9" width="22" height="2"/></g>
<g class="n o s" transform="translate(324,1349)"><ellipse rx="9.5" ry="8"/><text y="4">6</text><rect class="u" x="-11" y="9" width="22" height="2"/></g>
<g class="n p s" transform="translate(387,1373)"><ellipse rx="10" ry="8"/><text y="5">6</text><rect class="u" x="-11" y="9" width="22" height="2"/></g>
<g class="n p s" transform="translate(391,1405)"><ellipse rx="10" ry="8"/><text y="5">7</text><rect class="u" x="-11" y="9" width="22" height="2"/></g>
<g class="n p s" transform="translate(388,1430)"><ellipse rx="10" ry="8"/><text y="5">6</text><rect class="u" x="-11" y="9" width="22" height="2"/></g>
<g class="n p s" transform="translate(382,1462)"><line class="st" x1="0" y1="-15" x2="0" y2="-8"/><ellipse rx="10" ry="8"/><text y="5">5</text></g>
<!-- col B sys9 -->
<g class="n o s" transform="translate(637,995)"><ellipse rx="10" ry="6.5"/><text y="4">6</text></g>
<g class="n p s" transform="translate(660,995)"><line class="st" x1="-5" y1="-12" x2="-5" y2="-6"/><ellipse rx="10" ry="6.5"/><text y="4">1</text></g>
<g class="n p s" transform="translate(699,1035)"><line class="st" x1="0" y1="-15" x2="0" y2="-8"/><ellipse rx="10" ry="8"/><text y="5">5</text><rect class="u" x="-11" y="9" width="22" height="2"/></g>
<g class="n p s" transform="translate(704,1067)"><ellipse rx="10" ry="8"/><text y="5">6</text><rect class="u" x="-11" y="9" width="22" height="2"/></g>
<g class="n p s" transform="translate(704,1091)"><ellipse rx="10" ry="8"/><text y="5">6</text><rect class="u" x="-11" y="9" width="22" height="2"/></g>
<g class="n o s" transform="translate(641,1128)"><ellipse rx="9.5" ry="8"/><text y="4">6</text><rect class="u" x="-11" y="9" width="22" height="2"/></g>
<g class="n p s" transform="translate(699,1153)"><line class="st" x1="0" y1="-15" x2="0" y2="-8"/><ellipse rx="10" ry="8"/><text y="5">5</text><rect class="u" x="-11" y="9" width="22" height="2"/></g>
<g class="n p s" transform="translate(704,1177)"><ellipse rx="10" ry="8"/><text y="5">6</text><rect class="u" x="-11" y="9" width="22" height="2"/></g>
<g class="n p s" transform="translate(704,1201)"><ellipse rx="10" ry="8"/><text y="5">6</text><rect class="u" x="-11" y="9" width="22" height="2"/></g>
<g class="n o s" transform="translate(641,1232)"><ellipse rx="9.5" ry="8"/><text y="4">6</text><rect class="u" x="-11" y="9" width="22" height="2"/></g>
<g class="n p s" transform="translate(672,1256)"><ellipse rx="10" ry="8"/><text y="5">3</text><rect class="u" x="-11" y="9" width="22" height="2"/></g>
<g class="n p s" transform="translate(704,1290)"><ellipse rx="10" ry="8"/><text y="5">6</text><rect class="u" x="-11" y="9" width="22" height="2"/></g>
<g class="n p s" transform="translate(704,1313)"><ellipse rx="10" ry="8"/><text y="5">6</text><rect class="u" x="-11" y="9" width="22" height="2"/></g>
<g class="n o s" transform="translate(641,1344)"><ellipse rx="9.5" ry="8"/><text y="4">6</text><rect class="u" x="-11" y="9" width="22" height="2"/></g>
<g class="n p s" transform="translate(668,1368)"><ellipse rx="10" ry="8"/><text y="5">2</text><rect class="u" x="-11" y="9" width="22" height="2"/></g>
<g class="n o s" transform="translate(641,1401)"><ellipse rx="9.5" ry="8"/><text y="4">6</text></g>
</g>
</svg>
</body></html>
